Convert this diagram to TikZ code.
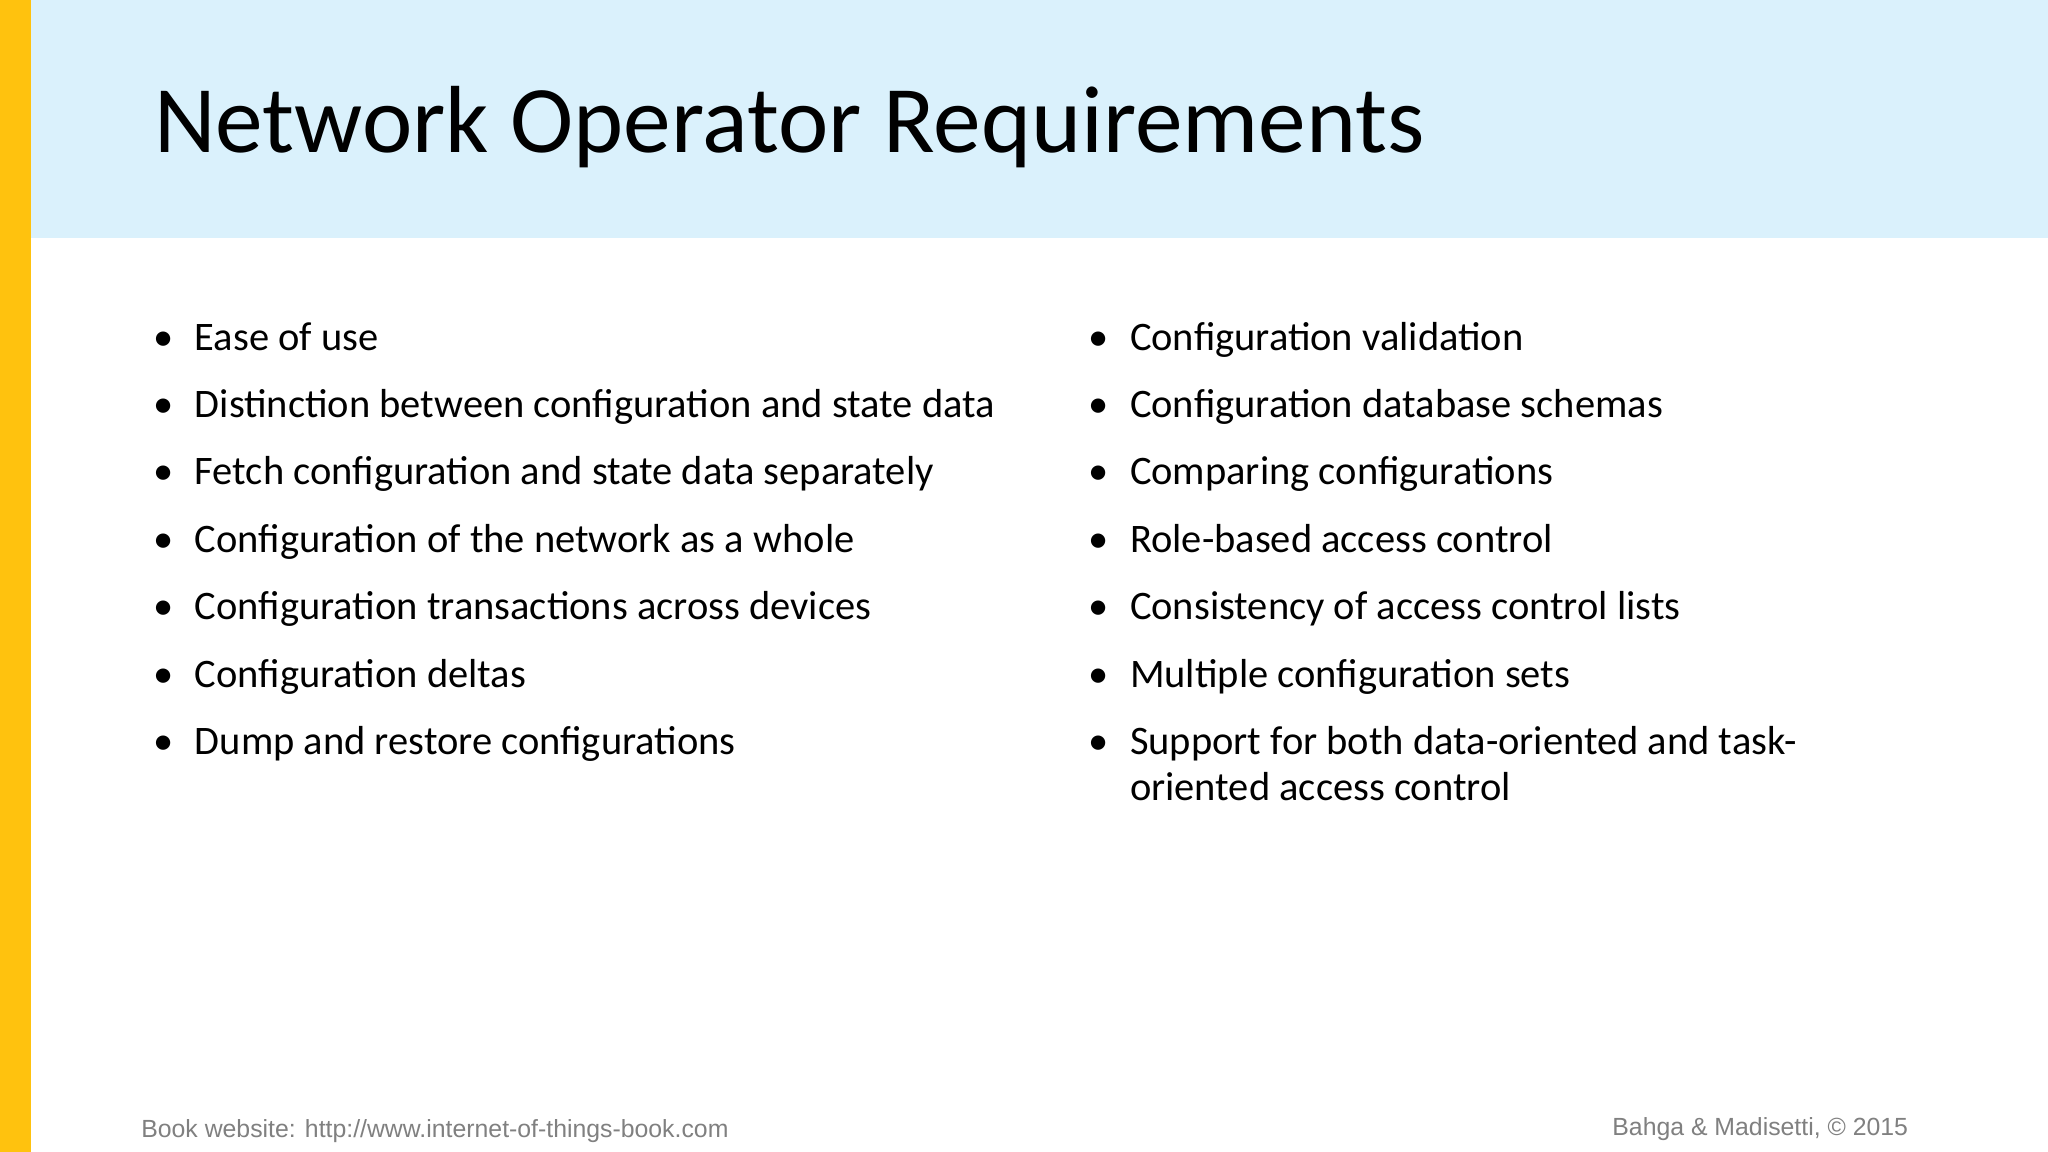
\documentclass[tikz,border=0pt]{standalone}
\usepackage{fontspec}
\setmainfont{Carlito}
\newfontfamily\footfont{Liberation Sans}
\definecolor{bary}{HTML}{FFC20E}
\definecolor{headb}{HTML}{DAF1FC}
\definecolor{footg}{HTML}{808080}
\tikzset{
  itm/.style={anchor=base west, inner sep=0pt, font=\fontsize{31}{36}\selectfont, text=black},
  bul/.style={anchor=base, inner sep=0pt, font=\fontsize{31}{36}\selectfont},
  foot/.style={inner sep=0pt, font=\footfont\fontsize{19}{22}\selectfont, text=footg}
}
\begin{document}
\begin{tikzpicture}[x=1pt,y=-1pt]
\useasboundingbox (0,0) rectangle (1568,882);
\fill[white] (0,0) rectangle (1568,882);
\fill[headb] (24,0) rectangle (1568,182);
\fill[bary] (0,0) rectangle (24,882);
\node[anchor=base west, inner sep=0pt, font=\fontsize{73}{80}\selectfont] (title) at (118,117) {Network Operator Requirements};
\foreach \t [count=\i] in {Ease of use,Distinction between configuration and state data,Fetch configuration and state data separately,Configuration of the network as a whole,Configuration transactions across devices,Configuration deltas,Dump and restore configurations}{
  \node[bul] (lb\i) at (125,268+51.6*\i-51.6) {•};
  \node[itm] (l\i) at (149,268+51.6*\i-51.6) {\t};
}
\foreach \t [count=\i] in {Configuration validation,Configuration database schemas,Comparing configurations,Role-based access control,Consistency of access control lists,Multiple configuration sets,Support for both data-oriented and task-}{
  \node[bul] (rb\i) at (841,268+51.6*\i-51.6) {•};
  \node[itm] (r\i) at (865,268+51.6*\i-51.6) {\t};
}
\node[itm] (r8) at (865,613) {oriented access control};
\node[foot, anchor=base west] (fl) at (108,871) {Book website: http://www.internet-of-things-book.com};
\node[foot, anchor=base east] (fr) at (1461,869) {Bahga \& Madisetti, © 2015};
\end{tikzpicture}
\end{document}
